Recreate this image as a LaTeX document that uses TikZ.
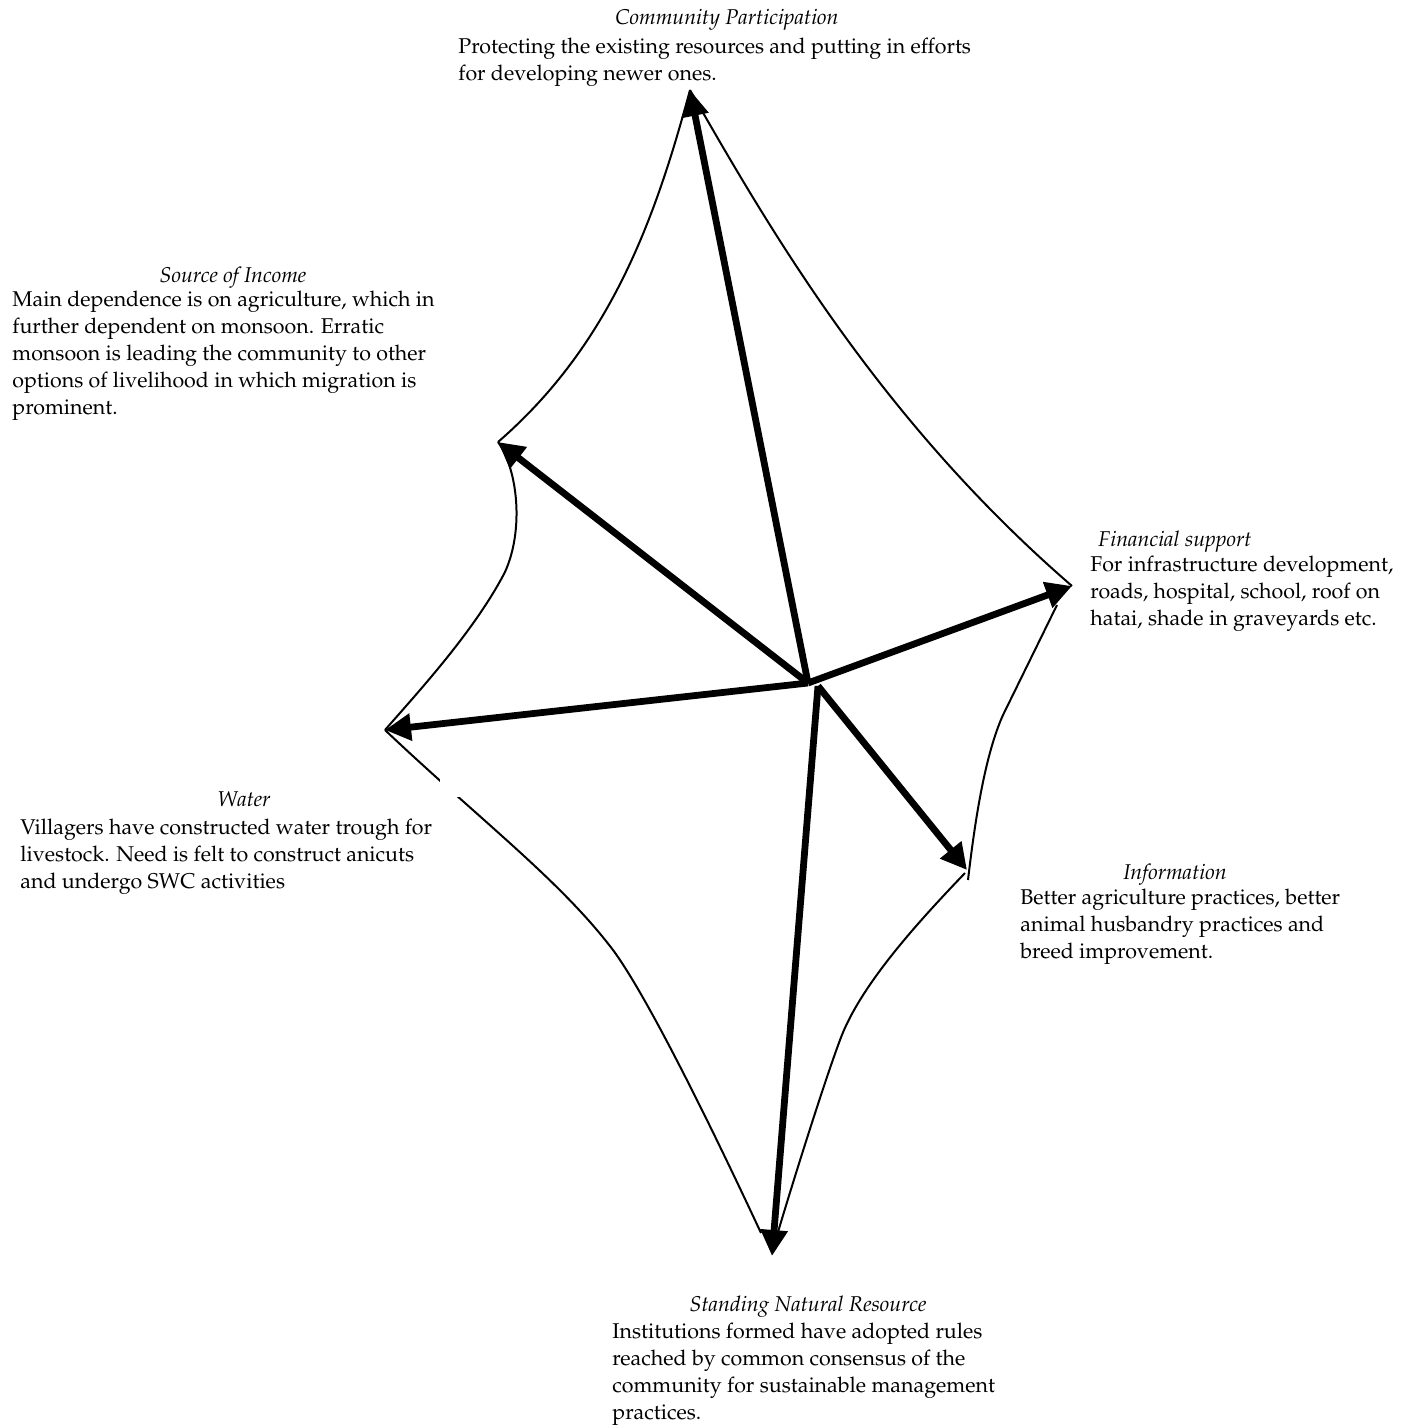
\documentclass[tikz,border=0pt]{standalone}
\usepackage[T1]{fontenc}
\renewcommand{\rmdefault}{ppl}
\usetikzlibrary{arrows.meta}
\begin{document}
\begin{tikzpicture}[x=0.5pt,y=-0.5pt,
  spoke/.style={line width=3.4pt,-{Triangle[length=13pt,width=13pt]}},
  rim/.style={line width=1pt},
  head/.style={anchor=base,inner sep=0pt,font=\fontsize{10.7}{13.5}\selectfont\itshape},
  body/.style={anchor=north west,inner sep=0pt,align=left,font=\fontsize{10.7}{13.5}\selectfont}]
\useasboundingbox (0,0) rectangle (1411,1425);
% hub and tips of the spokes
\coordinate (hubA) at (808,683);
\coordinate (hubB) at (818,686);
\coordinate (cpTip) at (690,90);
\coordinate (incTip) at (498,442);
\coordinate (watTip) at (385,730);
\coordinate (finTip) at (1072,586);
\coordinate (infTip) at (967,870);
\coordinate (snrTip) at (772,1256);
% loose ends of the rim
\coordinate (finLow) at (1057,605);
\coordinate (infUp) at (968,880);
\coordinate (infLow) at (965,873);
\coordinate (snrL) at (761,1233);
\coordinate (snrR) at (778,1232);
% rim
\draw[rim] (cpTip) .. controls (655,220) and (610,345) .. (incTip);
\draw[rim] (cpTip) .. controls (770,230) and (880,420) .. (finTip);
\draw[rim] (incTip) .. controls (518,470) and (524,530) .. (505,572)
  .. controls (475,630) and (420,690) .. (watTip);
\draw[rim] (watTip) .. controls (480,820) and (560,880) .. (613,950)
  .. controls (650,1000) and (720,1145) .. (snrL);
\fill[white] (440,777) rectangle (495,797);
\draw[rim] (finLow) -- (1003,715) .. controls (985,755) and (975,820) .. (infUp);
\draw[rim] (infLow) .. controls (920,920) and (860,985) .. (840,1040)
  .. controls (825,1080) and (795,1175) .. (snrR);
% spokes
\foreach \t in {cpTip,incTip,watTip,finTip} {
  \draw[spoke] (hubA) -- (\t);
}
\foreach \t in {infTip,snrTip} {
  \draw[spoke] (hubB) -- (\t);
}
% labels
\node[head] (cpHead) at (727,24) {Community Participation};
\node[body] (cpBody) at (458,38) {Protecting the existing resources and putting in efforts\\for developing newer ones.};
\node[head] (incHead) at (233,282) {Source of Income};
\node[body] (incBody) at (12,291) {Main dependence is on agriculture, which in\\further dependent on monsoon. Erratic\\monsoon is leading the community to other\\options of livelihood in which migration is\\prominent.};
\node[head] (finHead) at (1175,546) {Financial support};
\node[body] (finBody) at (1090,556) {For infrastructure development,\\roads, hospital, school, roof on\\hatai, shade in graveyards etc.};
\node[head] (watHead) at (244,806) {Water};
\node[body] (watBody) at (20,819) {Villagers have constructed water trough for\\livestock. Need is felt to construct anicuts\\and undergo SWC activities};
\node[head] (infHead) at (1175,879) {Information};
\node[body] (infBody) at (1020,889) {Better agriculture practices, better\\animal husbandry practices and\\breed improvement.};
\node[head] (snrHead) at (808,1311) {Standing Natural Resource};
\node[body] (snrBody) at (612,1323) {Institutions formed have adopted rules\\reached by common consensus of the\\community for sustainable management\\practices.};
\end{tikzpicture}
\end{document}
